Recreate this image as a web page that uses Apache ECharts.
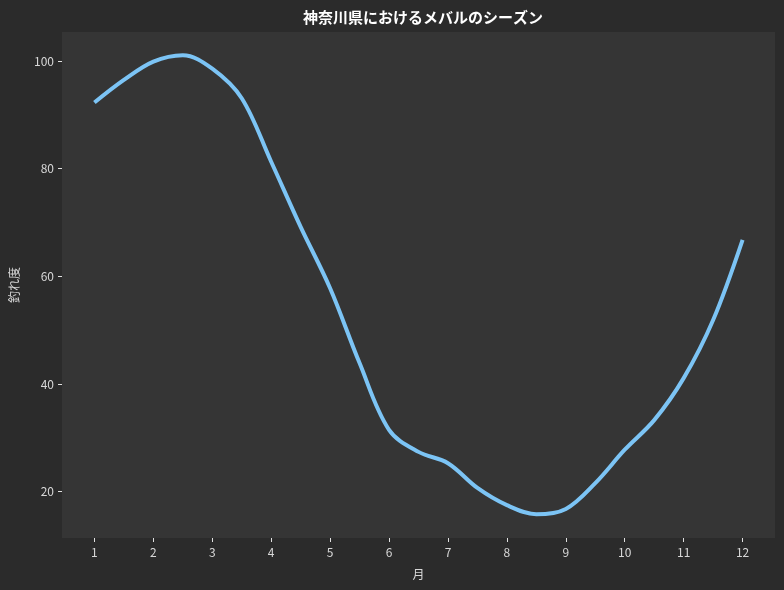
<!DOCTYPE html>
<html>
<head>
<meta charset="utf-8">
<script src="https://cdn.jsdelivr.net/npm/echarts@6/dist/echarts.min.js"></script>
<style>
  html, body { margin: 0; padding: 0; background: #2b2b2b; }
  #chart { width: 784px; height: 590px; }
</style>
</head>
<body>
<div id="chart"></div>
<script>
// Data (month, catch score)
var months = [1, 1.5, 2, 2.5, 3, 3.5, 4, 4.5, 5, 5.5, 6, 6.5, 7, 7.5, 8, 8.5, 9, 9.5, 10, 10.5, 11, 11.5, 12];
var scores = [92.3, 96.5, 99.9, 101.1, 98.6, 93.1, 81.3, 69.2, 57.8, 43.9, 31.5, 27.4, 25.3, 20.7, 17.5, 15.8, 16.8, 21.6, 27.8, 33.3, 41.1, 51.9, 66.8];
var xTicks = [1, 2, 3, 4, 5, 6, 7, 8, 9, 10, 11, 12];
var yTicks = [20, 40, 60, 80, 100];

var fontJP = '"Noto Sans CJK JP", "Noto Sans", sans-serif';

var chart = echarts.init(document.getElementById('chart'));

var points = months.map(function (m, i) { return [m, scores[i]]; });

chart.setOption({
    backgroundColor: '#2b2b2b',
    animation: false,

    // Title
    title: {
        text: '神奈川県におけるメバルのシーズン',
        left: 418,
        textAlign: 'center',
        top: 5,
        textStyle: {
            color: '#ffffff',
            fontSize: 15,
            fontWeight: 'bold',
            fontFamily: fontJP
        }
    },

    grid: {
        left: 61,
        right: 9,
        top: 32,
        bottom: 52,
        show: true,
        backgroundColor: '#353535',
        borderWidth: 0
    },

    // Horizontal axis
    xAxis: {
        type: 'value',
        min: 0.45,
        max: 12.55,
        name: '月',
        nameLocation: 'middle',
        nameGap: 30,
        nameTextStyle: { color: '#d8d8d8', fontSize: 12, fontFamily: fontJP },
        axisLine: { show: false },
        splitLine: { show: false },
        axisTick: {
            show: true,
            customValues: xTicks,
            length: 4,
            lineStyle: { color: '#e0e0e0' }
        },
        axisLabel: {
            customValues: xTicks,
            color: '#d8d8d8',
            fontSize: 12,
            margin: 8,
            fontFamily: fontJP
        }
    },

    // Vertical axis
    yAxis: {
        type: 'value',
        min: 11.4,
        max: 105.4,
        name: '釣れ度',
        nameLocation: 'middle',
        nameGap: 42,
        nameTextStyle: { color: '#d8d8d8', fontSize: 12, fontFamily: fontJP },
        axisLine: { show: false },
        splitLine: { show: false },
        axisTick: {
            show: true,
            customValues: yTicks,
            length: 4,
            lineStyle: { color: '#e0e0e0' }
        },
        axisLabel: {
            customValues: yTicks,
            color: '#d8d8d8',
            fontSize: 12,
            margin: 8,
            fontFamily: fontJP
        }
    },

    series: [{
        type: 'line',
        data: points,
        smooth: 0.35,
        showSymbol: false,
        lineStyle: {
            color: '#7cc4f5',
            width: 4
        }
    }]
});
</script>
</body>
</html>
